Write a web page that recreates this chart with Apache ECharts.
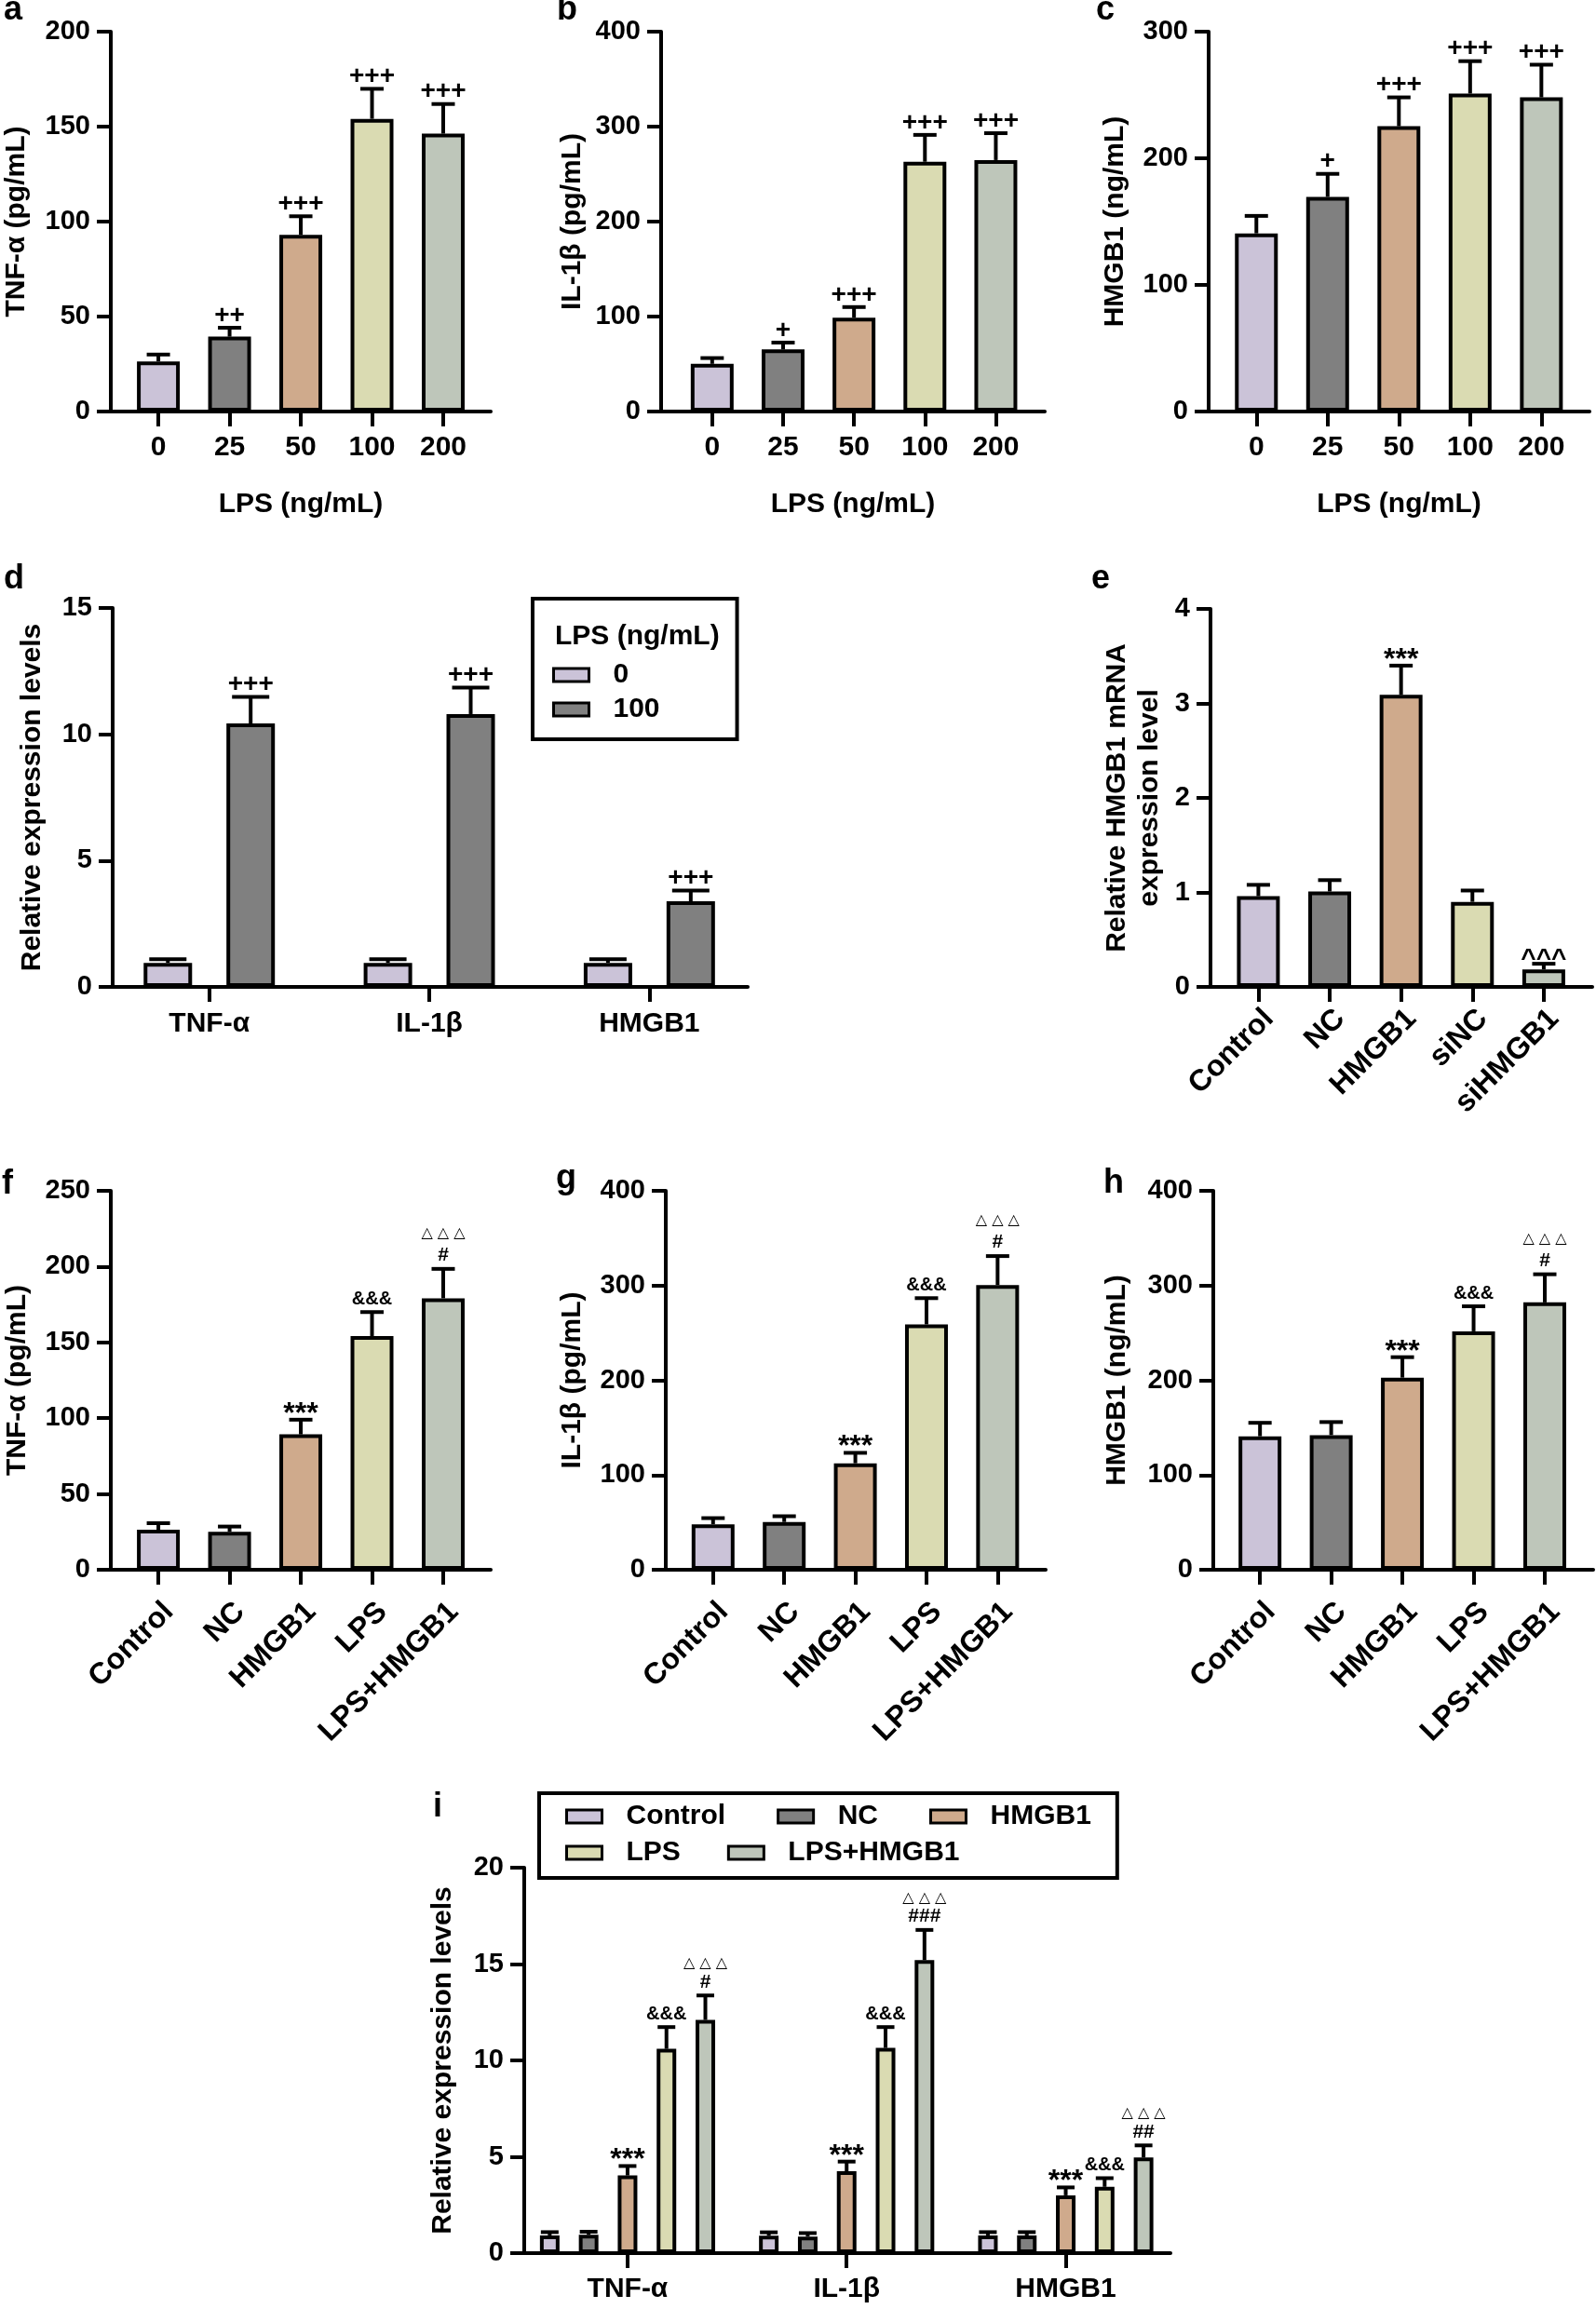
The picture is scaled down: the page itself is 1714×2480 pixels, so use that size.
<!DOCTYPE html>
<html><head><meta charset="utf-8">
<script src="https://cdn.jsdelivr.net/npm/echarts@6/dist/echarts.min.js"></script>
<style>html,body{margin:0;padding:0;background:#fff}#c{width:1714px;height:2480px}</style>
</head><body><div id="c"></div>
<script>
// ---------------- DATA ----------------
const lpsDoses = ['0', '25', '50', '100', '200'];
const aTNF = [26.4, 39.4, 93.0, 154.1, 146.3];
const aTNFErr = [3.6, 4.7, 9.8, 15.8, 15.6];
const aMarks = [[], ['++'], ['+++'], ['+++'], ['+++']];

const bIL = [50.2, 65.4, 98.8, 263.0, 264.8];
const bILErr = [6.1, 7.2, 11.2, 28.3, 28.3];
const bMarks = [[], ['+'], ['+++'], ['+++'], ['+++']];

const cHMGB1 = [140.7, 169.5, 225.3, 251.1, 248.1];
const cHMGB1Err = [13.8, 18.2, 22.8, 25.6, 25.8];
const cMarks = [[], ['+'], ['+++'], ['+++'], ['+++']];

const genes = ['TNF-α', 'IL-1β', 'HMGB1'];
const dLPS0 = [0.95, 0.95, 0.95];
const dLPS0Err = [0.15, 0.15, 0.15];
const dLPS100 = [10.43, 10.8, 3.39];
const dLPS100Err = [1.05, 1.05, 0.42];
const dMarks100 = [['+++'], ['+++'], ['+++']];

const eGroups = ['Control', 'NC', 'HMGB1', 'siNC', 'siHMGB1'];
const eMRNA = [0.96, 1.01, 3.09, 0.90, 0.185];
const eErr = [0.12, 0.12, 0.31, 0.12, 0.06];
const eMarks = [[], [], ['***'], [], ['^^^']];

const fghGroups = ['Control', 'NC', 'HMGB1', 'LPS', 'LPS+HMGB1'];
const fghMarks = [[], [], ['***'], ['&&&'], ['#', '△ △ △']];
const fTNF = [26.4, 25.0, 89.3, 154.2, 179.1];
const fErr = [4.3, 3.5, 9.7, 15.8, 19.4];
const gIL = [48.0, 50.4, 112.4, 259.0, 300.5];
const gErr = [6.5, 6.1, 11.0, 27.7, 30.6];
const hHMGB1 = [140.9, 142.1, 202.8, 251.7, 282.2];
const hErr = [14.2, 13.8, 21.6, 26.4, 29.7];

const iNames = ['Control', 'NC', 'HMGB1', 'LPS', 'LPS+HMGB1'];
const iControl = [0.92, 0.90, 0.92];
const iControlErr = [0.17, 0.18, 0.17];
const iNC = [0.95, 0.86, 0.92];
const iNCErr = [0.16, 0.18, 0.17];
const iHMGB1 = [4.03, 4.25, 3.0];
const iHMGB1Err = [0.49, 0.5, 0.41];
const iLPS = [10.6, 10.65, 3.44];
const iLPSErr = [1.13, 1.08, 0.45];
const iLPSHMGB1 = [12.1, 15.2, 4.96];
const iLPSHMGB1Err = [1.27, 1.57, 0.63];
const iMarksHMGB1 = [['***'], ['***'], ['***']];
const iMarksLPS = [['&&&'], ['&&&'], ['&&&']];
const iMarksLPSHMGB1 = [['#', '△ △ △'], ['###', '△ △ △'], ['##', '△ △ △']];

// ---------------- STYLE ----------------
const FONT = '"Liberation Sans", Arial, Helvetica, sans-serif';
const LW = 4;
const COLORS = ['#CBC3D8', '#808080', '#CFAA8C', '#DADBB2', '#BEC6BA'];

const grids = [], xAxes = [], yAxes = [], series = [];

function markFont(s, triLift) {
  if (s.indexOf('△') >= 0) return {size: 16, weight: 'normal', family: '"DejaVu Sans", sans-serif', lift: triLift};
  if (s[0] === '+') return {size: 28, weight: 'bold', family: FONT, lift: 13};
  if (s[0] === '*') return {size: 32, weight: 'bold', family: FONT, lift: 6};
  if (s[0] === '&') return {size: 20, weight: 'bold', family: FONT, lift: 13.5};
  if (s[0] === '#') return {size: 21, weight: 'bold', family: FONT, lift: 14.5};
  if (s[0] === '^') return {size: 28, weight: 'bold', family: FONT, lift: 5};
  return {size: 24, weight: 'bold', family: FONT, lift: 13};
}

function errorRenderer(marks, capW, dx, triLift) {
  return function (params, api) {
    const x = api.value(0), v = api.value(1), e = api.value(2);
    const base = api.coord([x, v]);
    const tip = api.coord([x, v + e]);
    const cx = base[0] + dx;
    const kids = [
      {type: 'line', shape: {x1: cx, y1: base[1], x2: cx, y2: tip[1]}, style: {stroke: '#000', lineWidth: LW}},
      {type: 'line', shape: {x1: cx - capW / 2, y1: tip[1], x2: cx + capW / 2, y2: tip[1]}, style: {stroke: '#000', lineWidth: LW}}
    ];
    (marks[params.dataIndex] || []).forEach(function (s) {
      const f = markFont(s, triLift);
      kids.push({type: 'text', style: {text: s, x: cx, y: tip[1] - f.lift, align: 'center', verticalAlign: 'middle',
        fontSize: f.size, fontWeight: f.weight, fontFamily: f.family, fill: '#000'}});
    });
    return {type: 'group', children: kids};
  };
}

function addAxes(p) {
  const gi = grids.length;
  grids.push({left: p.left, top: p.top, width: p.right - p.left, height: p.bottom - p.top, outerBoundsMode: 'none', containLabel: false});
  const tickVals = p.cats.map(function (_, k) { return k; });
  const lbl = {show: true, customValues: tickVals, formatter: function (v) { return p.cats[Math.round(v)]; },
    color: '#000', fontFamily: FONT, fontWeight: 'bold', fontSize: p.rot ? 32 : 30, rotate: p.rot || 0, margin: p.labelMargin};
  if (p.rot) lbl.verticalAlign = 'top';
  xAxes.push({
    gridIndex: gi, type: 'value', min: p.xmin, max: p.xmax,
    axisLine: {show: true, onZero: false, lineStyle: {color: '#000', width: LW}},
    axisTick: {show: true, customValues: tickVals, length: 16, lineStyle: {color: '#000', width: LW}},
    axisLabel: lbl,
    splitLine: {show: false},
    name: p.xName || '', nameLocation: 'middle', nameGap: 85, nameMoveOverlap: false,
    nameTextStyle: {color: '#000', fontFamily: FONT, fontWeight: 'bold', fontSize: 30}
  });
  yAxes.push({
    gridIndex: gi, type: 'value', min: 0, max: p.ymax, interval: p.ystep,
    axisLine: {show: true, onZero: false, lineStyle: {color: '#000', width: LW}},
    axisTick: {show: true, length: 15, lineStyle: {color: '#000', width: LW}},
    axisLabel: {color: '#000', fontFamily: FONT, fontWeight: 'bold', fontSize: 29, margin: 22},
    splitLine: {show: false},
    name: p.yName, nameLocation: 'middle', nameGap: p.yNameGap, nameRotate: 90, nameMoveOverlap: false,
    nameTextStyle: {color: '#000', fontFamily: FONT, fontWeight: 'bold', fontSize: 30, lineHeight: p.yLineHeight || 34, align: 'center'}
  });
  return gi;
}

function singlePanel(p, vals, errs, marks) {
  const gi = addAxes(p);
  series.push({
    type: 'bar', xAxisIndex: gi, yAxisIndex: gi, barWidth: 46, silent: true,
    itemStyle: {borderColor: '#000', borderWidth: LW},
    data: vals.map(function (v, k) { return {value: [k, v], itemStyle: {color: COLORS[k]}}; })
  });
  series.push({
    type: 'custom', xAxisIndex: gi, yAxisIndex: gi, z: 3, clip: false, silent: true,
    renderItem: errorRenderer(marks, 25, 0, 38),
    data: vals.map(function (v, k) { return [k, v, errs[k]]; })
  });
}

function groupedPanel(p, names, valsList, errsList, marksList, barW, gapPct, capW) {
  const gi = addAxes(p);
  const pitch = barW * (1 + gapPct / 100);
  const n = names.length;
  names.forEach(function (nm, s) {
    series.push({
      type: 'bar', name: nm, xAxisIndex: gi, yAxisIndex: gi, barWidth: barW, barGap: gapPct + '%', silent: true,
      itemStyle: {color: COLORS[s], borderColor: '#000', borderWidth: LW},
      data: valsList[s].map(function (v, k) { return [k, v]; })
    });
  });
  names.forEach(function (nm, s) {
    series.push({
      type: 'custom', name: 'err-' + nm + '-' + gi, xAxisIndex: gi, yAxisIndex: gi, z: 3, clip: false, silent: true,
      renderItem: errorRenderer(marksList[s], capW, (s - (n - 1) / 2) * pitch, 34),
      data: valsList[s].map(function (v, k) { return [k, v, errsList[s][k]]; })
    });
  });
}

// a
singlePanel({left: 119, top: 34, right: 527, bottom: 442, xmin: -0.668, xmax: 4.667, ymax: 200, ystep: 50,
  cats: lpsDoses, yName: 'TNF-α (pg/mL)', yNameGap: 84, xName: 'LPS (ng/mL)', labelMargin: 24}, aTNF, aTNFErr, aMarks);
// b
singlePanel({left: 710, top: 34, right: 1122, bottom: 442, xmin: -0.72, xmax: 4.69, ymax: 400, ystep: 100,
  cats: lpsDoses, yName: 'IL-1β (pg/mL)', yNameGap: 78, xName: 'LPS (ng/mL)', labelMargin: 24}, bIL, bILErr, bMarks);
// c
singlePanel({left: 1298, top: 34, right: 1707, bottom: 442, xmin: -0.67, xmax: 4.675, ymax: 300, ystep: 100,
  cats: lpsDoses, yName: 'HMGB1 (ng/mL)', yNameGap: 83, xName: 'LPS (ng/mL)', labelMargin: 24}, cHMGB1, cHMGB1Err, cMarks);
// d
groupedPanel({left: 121, top: 653, right: 803, bottom: 1060, xmin: -0.439, xmax: 2.447, ymax: 15, ystep: 5,
  cats: genes, yName: 'Relative expression levels', yNameGap: 69, labelMargin: 25},
  ['0', '100'], [dLPS0, dLPS100], [dLPS0Err, dLPS100Err], [[], dMarks100], 52, 71, 40);
// e
singlePanel({left: 1300, top: 654, right: 1710, bottom: 1060, xmin: -0.671, xmax: 4.68, ymax: 4, ystep: 1,
  cats: eGroups, yName: 'Relative HMGB1 mRNA\nexpression level', yNameGap: 48, yLineHeight: 35, rot: 45, labelMargin: 18}, eMRNA, eErr, eMarks);
// f
singlePanel({left: 119, top: 1279, right: 527, bottom: 1686, xmin: -0.668, xmax: 4.667, ymax: 250, ystep: 50,
  cats: fghGroups, yName: 'TNF-α (pg/mL)', yNameGap: 83, rot: 45, labelMargin: 29}, fTNF, fErr, fghMarks);
// g
singlePanel({left: 715, top: 1279, right: 1123, bottom: 1686, xmin: -0.665, xmax: 4.676, ymax: 400, ystep: 100,
  cats: fghGroups, yName: 'IL-1β (pg/mL)', yNameGap: 83, rot: 45, labelMargin: 29}, gIL, gErr, fghMarks);
// h
singlePanel({left: 1303, top: 1279, right: 1711, bottom: 1686, xmin: -0.656, xmax: 4.68, ymax: 400, ystep: 100,
  cats: fghGroups, yName: 'HMGB1 (ng/mL)', yNameGap: 86, rot: 45, labelMargin: 29}, hHMGB1, hErr, fghMarks);
// i
groupedPanel({left: 563, top: 2006, right: 1257, bottom: 2420, xmin: -0.4715, xmax: 2.478, ymax: 20, ystep: 5,
  cats: genes, yName: 'Relative expression levels', yNameGap: 70, labelMargin: 24},
  iNames, [iControl, iNC, iHMGB1, iLPS, iLPSHMGB1],
  [iControlErr, iNCErr, iHMGB1Err, iLPSErr, iLPSHMGB1Err],
  [[], [], iMarksHMGB1, iMarksLPS, iMarksLPSHMGB1], 21, 99, 19);

const legendText = {color: '#000', fontFamily: FONT, fontWeight: 'bold', fontSize: 30, lineHeight: 30, padding: [0, 0, 0, 21]};
const legends = [
  {data: ['0', '100'], orient: 'vertical', left: 572, top: 643, padding: [67, 83, 17, 21], itemGap: 7,
    itemWidth: 38, itemHeight: 14, icon: 'rect', borderColor: '#000', borderWidth: LW, selectedMode: false,
    itemStyle: {borderColor: '#000', borderWidth: 3}, textStyle: legendText},
  {data: ['Control', 'NC', 'HMGB1'], orient: 'horizontal', left: 579, top: 1926, padding: [10, 28, 51, 28], itemGap: 55,
    itemWidth: 38, itemHeight: 14, icon: 'rect', borderColor: '#000', borderWidth: LW, selectedMode: false,
    itemStyle: {borderColor: '#000', borderWidth: 3}, textStyle: legendText},
  {data: ['LPS', 'LPS+HMGB1'], orient: 'horizontal', left: 607, top: 1975, padding: 0, itemGap: 50,
    itemWidth: 38, itemHeight: 14, icon: 'rect', selectedMode: false,
    itemStyle: {borderColor: '#000', borderWidth: 3}, textStyle: legendText}
];

const letterStyle = {color: '#000', fontFamily: FONT, fontWeight: 'bold', fontSize: 36};
function letter(t, l, tp) { return {text: t, left: l, top: tp, padding: 0, textStyle: letterStyle}; }
const titles = [
  letter('a', 4, -7), letter('b', 598, -7), letter('c', 1177, -7),
  letter('d', 4, 604), letter('e', 1172, 604),
  letter('f', 2, 1254), letter('g', 597, 1248), letter('h', 1185, 1253),
  letter('i', 465, 1923),
  {text: 'LPS (ng/mL)', left: 596, top: 669, padding: 0, textStyle: {color: '#000', fontFamily: FONT, fontWeight: 'bold', fontSize: 30}}
];

const chart = echarts.init(document.getElementById('c'), null, {renderer: 'canvas'});
chart.setOption({
  animation: false,
  backgroundColor: '#ffffff',
  textStyle: {fontFamily: FONT},
  title: titles,
  legend: legends,
  grid: grids,
  xAxis: xAxes,
  yAxis: yAxes,
  series: series
});
</script></body></html>
